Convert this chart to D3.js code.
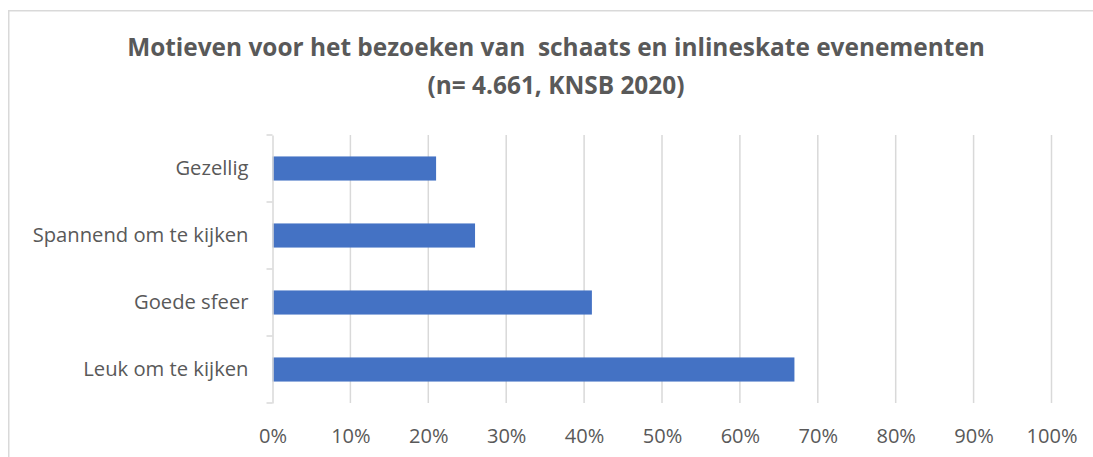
<!DOCTYPE html>
<html><head><meta charset="utf-8">
<script src="https://cdn.jsdelivr.net/npm/d3@7/dist/d3.min.js"></script>
<style>html,body{margin:0;padding:0;background:#fff;overflow:hidden}</style>
</head><body>
<svg id="c" width="1093" height="457"></svg>
<script>
const categories = ["Gezellig", "Spannend om te kijken", "Goede sfeer", "Leuk om te kijken"];
const values = [21, 26, 41, 67];
const tickValues = [0,10,20,30,40,50,60,70,80,90,100];
const titleLines = ["Motieven voor het bezoeken van  schaats en inlineskate evenementen", "(n= 4.661, KNSB 2020)"];

const svg = d3.select("#c");
const font = "'Open Sans', Lato, sans-serif";
const textColor = "#595959";
const grid = "#d9d9d9";

// helper: font size giving a target width for a sample string
function fitSize(str, weight, target) {
  const tmp = svg.append("text").attr("font-family", font).attr("font-weight", weight)
    .attr("font-size", 20).style("white-space", "pre").text(str);
  const w = tmp.node().getComputedTextLength();
  tmp.remove();
  return 20 * target / w;
}
const titleSize = fitSize(titleLines[0], "bold", 858);
const labelSize = fitSize("Spannend om te kijken", "normal", 216);
const tickSize = Math.min(labelSize, fitSize("100%", "normal", 51));

svg.append("rect").attr("x", 8.75).attr("y", 10.75).attr("width", 1200).attr("height", 600)
  .attr("fill", "none").attr("stroke", grid).attr("stroke-width", 1.5);

const m = {left: 272.5, right: 1051.5, top: 135, bottom: 403};
const x = d3.scaleLinear().domain([0, 100]).range([m.left, m.right]);
const y = d3.scaleBand().domain(categories.slice().reverse()).range([m.bottom, m.top]).paddingInner(0.64).paddingOuter(0.32);

// title
const t = svg.append("text").attr("text-anchor", "middle").attr("fill", textColor)
  .attr("font-family", font).attr("font-weight", "bold").attr("font-size", titleSize)
  .style("white-space", "pre");
t.append("tspan").attr("x", 556).attr("y", 56).text(titleLines[0]);
t.append("tspan").attr("x", 556).attr("y", 94).text(titleLines[1]);

// gridlines
svg.append("g").selectAll("line").data(tickValues.filter(d => d > 0)).join("line")
  .attr("x1", d => x(d)).attr("x2", d => x(d)).attr("y1", m.top).attr("y2", m.bottom)
  .attr("stroke", grid).attr("stroke-width", 1.5);

// bars
svg.append("g").selectAll("rect").data(categories).join("rect")
  .attr("x", x(0)).attr("y", (d) => y(d)).attr("height", y.bandwidth())
  .attr("width", (d, i) => x(values[i]) - x(0)).attr("fill", "#4472c4");

// y axis
const yAxis = d3.axisLeft(d3.scaleBand().domain(categories.slice().reverse()).range([m.bottom, m.top]))
  .tickSize(0).tickPadding(24);
const ya = svg.append("g").attr("transform", `translate(${m.left},0)`).call(yAxis);
ya.select(".domain").attr("stroke", grid).attr("stroke-width", 1.5);
ya.selectAll("text").attr("font-family", font).attr("font-size", labelSize).attr("fill", textColor);
// category separator ticks
const bounds = [m.top, ...categories.map((c,i)=>m.top + (m.bottom-m.top)*(i+1)/categories.length)];
svg.append("g").selectAll("line").data(bounds).join("line")
  .attr("x1", m.left - 6).attr("x2", m.left).attr("y1", d => d).attr("y2", d => d)
  .attr("stroke", grid).attr("stroke-width", 1.5);

// x axis labels
const xAxis = d3.axisBottom(x).tickValues(tickValues).tickFormat(d => d + "%").tickSize(0).tickPadding(26);
const xa = svg.append("g").attr("transform", `translate(0,${m.bottom})`).call(xAxis);
xa.select(".domain").remove();
xa.selectAll("text").attr("font-family", font).attr("font-size", tickSize).attr("fill", textColor);
</script>
</body></html>
